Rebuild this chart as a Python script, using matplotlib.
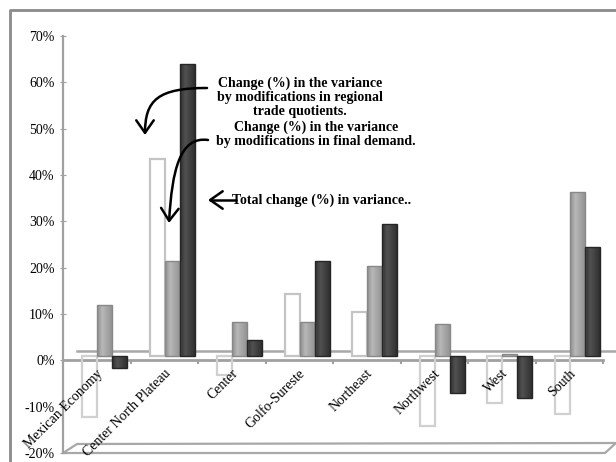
import numpy as np
import matplotlib
matplotlib.use("Agg")
import matplotlib.pyplot as plt
from matplotlib import transforms
from matplotlib.patches import Rectangle, Polygon, FancyArrowPatch
from matplotlib.path import Path

plt.rcParams["font.family"] = ["Liberation Serif", "DejaVu Serif"]

# data (% change in variance)
regions = ["Mexican Economy", "Center North Plateau", "Center", "Golfo-Sureste",
           "Northeast", "Northwest", "West", "South"]
trade_quotients = [-13, 42.5, -4, 13.5, 9.5, -15, -10, -12.5]
final_demand = [11, 20.5, 7.5, 7.5, 19.5, 7, 0.5, 35.5]
total_change = [-2.5, 63, 3.5, 20.5, 28.5, -8, -9, 23.5]
yticks = [-20, -10, 0, 10, 20, 30, 40, 50, 60, 70]

W, H = 616, 462


def fx(x):
    return x / W


def fy(y):
    return 1 - y / H


fig = plt.figure(figsize=(6.16, 4.62), dpi=100)
ax = fig.add_axes([fx(63), fy(453), fx(540), (453 - 36) / H])
ax.patch.set_visible(False)
ax.set_xlim(0, 8)
ax.set_ylim(-20, 70)
for s in ["top", "right", "bottom"]:
    ax.spines[s].set_visible(False)
ax.spines["left"].set_color("#a0a0a0")
ax.spines["left"].set_linewidth(1.6)
ax.set_xticks([])
ax.set_yticks(yticks)
ax.set_yticklabels([f"{v}%" for v in yticks], fontsize=10)
ax.tick_params(axis="y", direction="inout", length=4, color="#a0a0a0", pad=4)

# pseudo 3d offsets (pixels)
bar_tr = transforms.offset_copy(ax.transData, fig=fig, x=7.8, y=4, units="dots")
back_tr = transforms.offset_copy(ax.transData, fig=fig, x=14, y=9, units="dots")

# back wall zero line
ax.plot([0, 8.3], [0, 0], color="#a8a8a8", lw=1.8, transform=back_tr,
        clip_on=False, zorder=1)

# floor slab at -20%
floor = Polygon([(fx(63), fy(453)), (fx(605), fy(453)), (fx(616), fy(443)),
                 (fx(77), fy(444))], closed=True, facecolor="none",
                edgecolor="#a8a8a8", lw=1.6, transform=fig.transFigure, zorder=-1)
fig.patches.append(floor)

# front zero line with category ticks
ax.plot([0, 8], [0, 0], color="#a0a0a0", lw=2, zorder=2, clip_on=False)
ax.vlines(np.arange(9), -0.8, 0, color="#a0a0a0", lw=1.5, zorder=2, clip_on=False)

bw = 15 / 67.5
x = np.arange(len(regions)) + 0.5


def shaded_bar(xc, val, edge, stops):
    x0, x1 = xc - bw / 2, xc + bw / 2
    y0, y1 = min(0, val), max(0, val)
    rect = Rectangle((x0, y0), bw, y1 - y0, transform=bar_tr, facecolor="none",
                     edgecolor=edge, lw=1.0, zorder=4, clip_on=False)
    ax.add_patch(rect)
    grad = np.interp(np.linspace(0, 1, 64), [0, 0.35, 1], stops)
    img = ax.imshow(np.tile(grad, (2, 1)), cmap="gray", vmin=0, vmax=1,
                    extent=(x0, x1, y0, y1), aspect="auto", transform=bar_tr,
                    interpolation="bilinear", zorder=3)
    img.set_clip_path(rect)


for i in range(len(regions)):
    # white bar: filled above zero, bare outline below
    v = trade_quotients[i]
    ax.add_patch(Rectangle((x[i] - bw * 1.5, min(0, v)), bw, abs(v),
                           transform=bar_tr,
                           facecolor="white" if v > 0 else "none",
                           edgecolor="#c4c4c4" if v > 0 else "#d0d0d0",
                           lw=1.6, zorder=3, clip_on=False))
    shaded_bar(x[i], final_demand[i], "#888888", [0.55, 0.72, 0.58])
    shaded_bar(x[i] + bw, total_change[i], "#262626", [0.18, 0.32, 0.19])

ax.set_xlim(0, 8)
ax.set_ylim(-20, 70)

# category labels
for xi, name in zip(x, regions):
    ax.text(xi + 0.06, -2.4, name, rotation=45, rotation_mode="anchor",
            ha="right", va="center", fontsize=10, clip_on=False, zorder=6)

# figure border (top and left)
fig.add_artist(plt.Line2D([fx(10), fx(10), 1], [0, fy(10), fy(10)],
                          color="#8a8a8a", lw=2, transform=fig.transFigure))

# annotations
bold = dict(fontsize=10, fontweight="bold", ha="center", va="center",
            linespacing=1.1, transform=fig.transFigure)
fig.text(fx(300), fy(97.5), "Change (%) in the variance\nby modifications in regional\n"
         "trade quotients.", **bold)
fig.text(fx(316), fy(134.5), "Change (%) in the variance\nby modifications in final demand.",
         **bold)
fig.text(fx(232), fy(200), "Total change (%) in variance..", fontsize=10,
         fontweight="bold", ha="left", va="center", transform=fig.transFigure)

arrow_kw = dict(arrowstyle="->,head_length=0.5,head_width=0.35", mutation_scale=18,
                lw=1.8, color="black", transform=fig.transFigure)
p1 = Path([(fx(207), fy(88)), (fx(158), fy(88)), (fx(145), fy(100)), (fx(145), fy(135))],
          [Path.MOVETO, Path.CURVE4, Path.CURVE4, Path.CURVE4])
p2 = Path([(fx(208), fy(140)), (fx(180), fy(136)), (fx(172), fy(170)), (fx(169), fy(223))],
          [Path.MOVETO, Path.CURVE4, Path.CURVE4, Path.CURVE4])
p3 = Path([(fx(236), fy(200)), (fx(208), fy(200))], [Path.MOVETO, Path.LINETO])
for p in (p1, p2, p3):
    fig.patches.append(FancyArrowPatch(path=p, **arrow_kw))

fig.savefig("out.png", dpi=100)
